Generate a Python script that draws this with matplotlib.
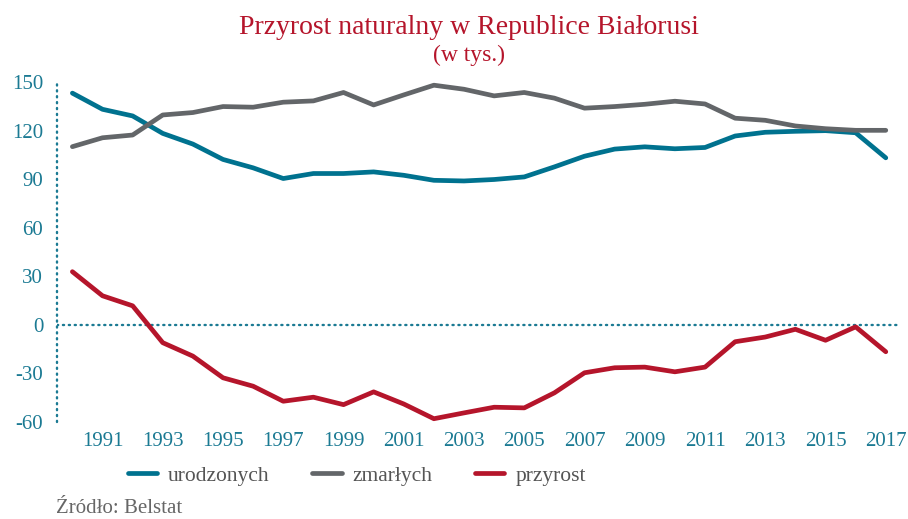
import matplotlib.pyplot as plt
from matplotlib.lines import Line2D

years = list(range(1990, 2018))
urodzonych = [143.3, 133.3, 129.2, 118.4, 111.8, 102.3, 97.1, 90.5, 93.6, 93.6,
              94.6, 92.5, 89.4, 89.0, 89.9, 91.5, 97.7, 104.3, 108.7, 110.1,
              108.9, 109.7, 116.8, 119.1, 119.7, 120.1, 118.8, 103.3]
zmarlych = [110.2, 115.7, 117.4, 129.8, 131.3, 135.0, 134.6, 137.7, 138.5, 143.7,
            136.0, 142.2, 148.2, 145.7, 141.6, 143.7, 140.2, 134.0, 135.0, 136.4,
            138.3, 136.6, 127.8, 126.5, 123.0, 121.3, 120.3, 120.3]
przyrost = [32.9, 18.0, 11.8, -11.0, -19.3, -32.7, -37.9, -47.2, -44.7, -49.3,
            -41.4, -48.9, -58.0, -54.4, -50.9, -51.3, -42.0, -29.6, -26.5, -26.1,
            -29.0, -26.1, -10.4, -7.5, -2.7, -9.5, -1.2, -16.6]
series_names = ["urodzonych", "zmarłych", "przyrost"]
yticks = [-60, -30, 0, 30, 60, 90, 120, 150]
xticks = list(range(1991, 2018, 2))

teal = "#00728f"
gray = "#636669"
red = "#b5152b"
axis_color = "#1b7a93"

plt.rcParams["font.family"] = ["Liberation Serif", "DejaVu Serif"]

fig = plt.figure(figsize=(9.08, 5.19), dpi=100)
ax = fig.add_axes([0.0628, 0.187, 0.926, 0.656])

for values, color in zip([urodzonych, zmarlych, przyrost], [teal, gray, red]):
    ax.plot(years, values, color=color, linewidth=3.4, solid_capstyle="round",
            solid_joinstyle="round")

ax.axhline(0, color=axis_color, linewidth=1.7, linestyle=(0, (0.5, 2.0)),
           dash_capstyle="round", zorder=1)

ax.set_xlim(1989.49, 2017.4)
ax.set_ylim(-60, 150.5)
for side in ["top", "right", "bottom"]:
    ax.spines[side].set_visible(False)
ax.spines["left"].set_color(axis_color)
ax.spines["left"].set_linewidth(1.7)
ax.spines["left"].set_linestyle((0, (0.5, 2.0)))
ax.spines["left"].set_capstyle("round")

ax.set_yticks(yticks)
ax.set_yticklabels([str(v) for v in yticks])
ax.set_xticks(xticks)
ax.set_xticklabels([str(v) for v in xticks])
ax.tick_params(axis="y", length=0, pad=10, labelsize=15, labelcolor=axis_color)
ax.tick_params(axis="x", length=0, pad=7, labelsize=15, labelcolor=axis_color)

fig.text(0.516, 0.947, "Przyrost naturalny w Republice Białorusi", color=red,
         fontsize=20, ha="center", va="center")
fig.text(0.516, 0.893, "(w tys.)", color=red, fontsize=17, ha="center", va="center")

handles = [Line2D([0], [0], color=c, linewidth=3.4, solid_capstyle="round")
           for c in [teal, gray, red]]
fig.legend(handles, series_names, loc="center", bbox_to_anchor=(0.393, 0.083),
           ncol=3, frameon=False, fontsize=15.5, labelcolor="#555555",
           handlelength=1.35, handletextpad=0.5, columnspacing=2.0)

fig.text(0.062, 0.02, "Źródło: Belstat", color="#666666", fontsize=15,
         ha="left", va="center")

fig.savefig("out.png", dpi=100)
